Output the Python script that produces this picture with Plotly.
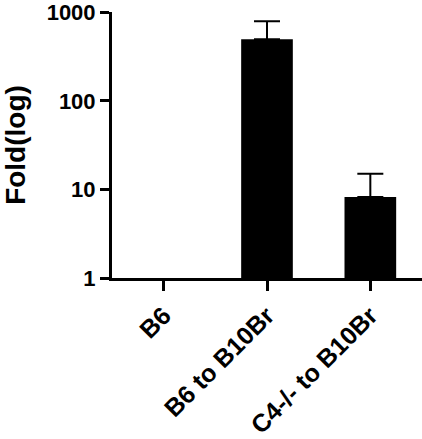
import plotly.graph_objects as go

groups = ["B6", "B6 to B10Br", "C4-/- to B10Br"]
fold = [1, 497, 8.2]
err_groups = ["B6 to B10Br", "C4-/- to B10Br"]
err_mean = [497, 8.2]
err_up = [293, 6.8]
y_ticks = [1, 10, 100, 1000]

font = "Liberation Sans, Arial, sans-serif"

fig = go.Figure()
fig.add_trace(go.Bar(
    x=groups, y=fold, width=0.5,
    marker=dict(color="black", line=dict(width=0)),
))
# upper error bars only, B6 has none
fig.add_trace(go.Scatter(
    x=err_groups, y=err_mean, mode="markers", marker=dict(size=0.1, color="black"),
    error_y=dict(type="data", symmetric=False, array=err_up, arrayminus=[0, 0],
                 color="black", thickness=2, width=13),
))

fig.update_layout(
    width=422, height=439,
    margin=dict(l=112, r=0, t=10, b=154),
    plot_bgcolor="white", paper_bgcolor="white",
    showlegend=False,
    font=dict(family=font, color="black"),
)
fig.update_xaxes(
    range=[-0.5, 2.5], showline=True, linecolor="black", linewidth=3,
    ticks="outside", tickwidth=3, ticklen=10, tickcolor="black",
    tickangle=-45, tickfont=dict(size=25, family=font, weight="bold"),
    showgrid=False, zeroline=False,
)
fig.update_yaxes(
    type="log", range=[0, 3.003], tickvals=y_ticks, ticktext=[str(v) for v in y_ticks],
    showline=True, linecolor="black", linewidth=3,
    ticks="outside", tickwidth=3, ticklen=9, tickcolor="black",
    tickfont=dict(size=22, family=font, weight="bold"), ticklabeloverflow="allow",
    title=dict(text="Fold(log)", font=dict(size=28, family=font, weight="bold"), standoff=16),
    showgrid=False, zeroline=False,
)

# drop the default body margin so the figure sits at the page corner
fig.write_html("out.html", config={"displayModeBar": False},
               post_script="document.body.style.margin='0';")
